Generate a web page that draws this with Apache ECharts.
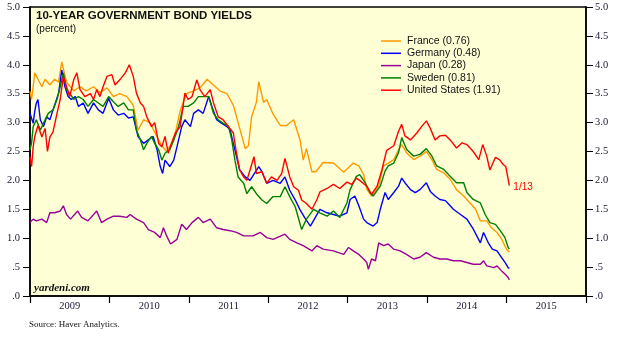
<!DOCTYPE html>
<html><head><meta charset="utf-8">
<script src="https://cdn.jsdelivr.net/npm/echarts@6/dist/echarts.min.js"></script>
<style>html,body{margin:0;padding:0;background:#fff}#c{width:628px;height:337px}</style>
</head><body><div id="c"></div>
<script>
const years = ['2009','2010','2011','2012','2013','2014','2015'];
const yTickLabels = ['.0','.5','1.0','1.5','2.0','2.5','3.0','3.5','4.0','4.5','5.0'];
const names = ['France (0.76)','Germany (0.48)','Japan (0.28)','Sweden (0.81)','United States (1.91)'];
const colors = ['#FF9900','#0000FF','#990099','#008000','#FF0000'];

const france = [[2009.00,3.54],[2009.02,3.40],[2009.06,3.86],[2009.10,3.75],[2009.15,3.62],[2009.19,3.75],[2009.25,3.65],[2009.31,3.75],[2009.36,3.70],[2009.40,4.05],[2009.46,3.70],[2009.55,3.55],[2009.63,3.62],[2009.71,3.55],[2009.80,3.62],[2009.88,3.52],[2009.97,3.60],[2010.05,3.45],[2010.13,3.50],[2010.22,3.45],[2010.30,3.30],[2010.36,2.87],[2010.43,3.05],[2010.51,3.00],[2010.60,2.75],[2010.66,2.60],[2010.72,2.50],[2010.81,2.70],[2010.89,3.20],[2010.97,3.50],[2011.06,3.55],[2011.14,3.60],[2011.23,3.75],[2011.31,3.65],[2011.39,3.55],[2011.48,3.50],[2011.56,3.30],[2011.64,2.90],[2011.71,2.55],[2011.75,2.60],[2011.79,3.10],[2011.85,3.35],[2011.88,3.71],[2011.94,3.35],[2011.98,3.40],[2012.06,3.15],[2012.15,2.95],[2012.23,2.95],[2012.32,3.05],[2012.40,2.70],[2012.44,2.35],[2012.48,2.55],[2012.55,2.15],[2012.60,2.15],[2012.69,2.31],[2012.82,2.30],[2012.95,2.14],[2013.07,2.30],[2013.14,2.25],[2013.20,2.10],[2013.24,1.85],[2013.30,1.73],[2013.39,1.90],[2013.45,2.25],[2013.51,2.30],[2013.58,2.36],[2013.64,2.53],[2013.68,2.62],[2013.74,2.48],[2013.83,2.36],[2013.91,2.42],[2013.99,2.50],[2014.06,2.36],[2014.12,2.19],[2014.21,2.13],[2014.29,2.02],[2014.37,1.84],[2014.46,1.73],[2014.54,1.61],[2014.61,1.50],[2014.67,1.30],[2014.75,1.30],[2014.81,1.18],[2014.88,1.10],[2014.94,0.98],[2015.00,0.81],[2015.035,0.76]];

const germany = [[2009.00,3.16],[2009.04,2.99],[2009.06,3.20],[2009.08,3.34],[2009.10,3.40],[2009.13,3.05],[2009.17,2.93],[2009.21,3.10],[2009.25,3.05],[2009.29,3.22],[2009.36,3.51],[2009.40,3.91],[2009.44,3.62],[2009.48,3.45],[2009.52,3.40],[2009.57,3.45],[2009.61,3.28],[2009.67,3.34],[2009.73,3.16],[2009.80,3.34],[2009.86,3.22],[2009.92,3.16],[2009.99,3.42],[2010.05,3.22],[2010.11,3.13],[2010.18,3.16],[2010.24,3.08],[2010.30,3.10],[2010.36,2.76],[2010.43,2.64],[2010.49,2.70],[2010.55,2.76],[2010.60,2.53],[2010.64,2.24],[2010.67,2.12],[2010.70,2.35],[2010.76,2.24],[2010.81,2.35],[2010.85,2.58],[2010.91,2.93],[2010.95,3.05],[2011.02,2.93],[2011.06,3.16],[2011.12,3.22],[2011.18,3.16],[2011.25,3.45],[2011.29,3.28],[2011.35,3.05],[2011.41,2.99],[2011.48,2.93],[2011.52,2.87],[2011.56,2.64],[2011.60,2.41],[2011.64,2.18],[2011.71,2.06],[2011.77,2.00],[2011.88,2.24],[2011.92,2.15],[2011.98,1.95],[2012.06,2.00],[2012.15,1.95],[2012.21,2.06],[2012.27,1.83],[2012.34,1.66],[2012.40,1.49],[2012.46,1.35],[2012.53,1.21],[2012.65,1.50],[2012.74,1.44],[2012.82,1.41],[2012.90,1.38],[2012.99,1.44],[2013.03,1.67],[2013.09,1.73],[2013.14,1.56],[2013.20,1.33],[2013.24,1.27],[2013.32,1.21],[2013.37,1.27],[2013.41,1.50],[2013.47,1.79],[2013.51,1.67],[2013.58,1.79],[2013.64,1.90],[2013.68,2.04],[2013.72,1.96],[2013.79,1.84],[2013.85,1.79],[2013.91,1.84],[2013.99,1.96],[2014.04,1.81],[2014.10,1.73],[2014.16,1.67],[2014.23,1.65],[2014.29,1.56],[2014.33,1.50],[2014.42,1.41],[2014.50,1.33],[2014.58,1.16],[2014.67,0.92],[2014.71,1.10],[2014.77,0.92],[2014.82,0.81],[2014.88,0.78],[2014.92,0.70],[2014.98,0.58],[2015.02,0.49],[2015.035,0.48]];

const japan = [[2009.00,1.27],[2009.04,1.33],[2009.08,1.30],[2009.15,1.33],[2009.21,1.27],[2009.25,1.44],[2009.31,1.44],[2009.38,1.47],[2009.42,1.56],[2009.46,1.41],[2009.51,1.33],[2009.60,1.47],[2009.65,1.36],[2009.73,1.30],[2009.84,1.47],[2009.90,1.27],[2009.97,1.33],[2010.05,1.38],[2010.13,1.38],[2010.22,1.36],[2010.26,1.41],[2010.34,1.33],[2010.43,1.27],[2010.49,1.15],[2010.57,1.10],[2010.64,1.01],[2010.68,1.18],[2010.72,1.04],[2010.77,0.90],[2010.85,0.98],[2010.91,1.24],[2010.97,1.15],[2011.04,1.27],[2011.12,1.36],[2011.18,1.27],[2011.27,1.33],[2011.35,1.18],[2011.43,1.15],[2011.52,1.13],[2011.60,1.10],[2011.69,1.04],[2011.81,1.04],[2011.90,1.10],[2011.98,1.01],[2012.06,0.98],[2012.21,1.07],[2012.27,0.98],[2012.36,0.92],[2012.44,0.87],[2012.55,0.78],[2012.61,0.87],[2012.69,0.81],[2012.82,0.78],[2012.95,0.72],[2013.01,0.84],[2013.07,0.78],[2013.14,0.72],[2013.20,0.64],[2013.24,0.58],[2013.26,0.46],[2013.30,0.64],[2013.35,0.61],[2013.39,0.92],[2013.45,0.87],[2013.51,0.90],[2013.58,0.81],[2013.66,0.78],[2013.74,0.72],[2013.83,0.64],[2013.91,0.67],[2013.99,0.75],[2014.08,0.67],[2014.16,0.64],[2014.25,0.64],[2014.33,0.61],[2014.42,0.61],[2014.50,0.58],[2014.58,0.55],[2014.67,0.55],[2014.71,0.61],[2014.75,0.52],[2014.84,0.49],[2014.88,0.52],[2014.94,0.43],[2014.98,0.38],[2015.02,0.32],[2015.035,0.28]];

const sweden = [[2009.00,2.53],[2009.02,2.65],[2009.04,2.93],[2009.08,3.05],[2009.13,2.87],[2009.17,2.99],[2009.23,3.16],[2009.29,3.22],[2009.34,3.40],[2009.38,3.62],[2009.42,3.86],[2009.46,3.57],[2009.50,3.51],[2009.55,3.40],[2009.61,3.45],[2009.67,3.40],[2009.73,3.28],[2009.80,3.40],[2009.86,3.34],[2009.92,3.28],[2009.99,3.45],[2010.05,3.36],[2010.11,3.28],[2010.18,3.34],[2010.24,3.22],[2010.30,3.22],[2010.34,2.87],[2010.39,2.70],[2010.43,2.53],[2010.47,2.64],[2010.53,2.76],[2010.57,2.64],[2010.62,2.53],[2010.66,2.35],[2010.70,2.47],[2010.76,2.53],[2010.81,2.70],[2010.87,2.93],[2010.93,3.28],[2010.99,3.28],[2011.06,3.34],[2011.12,3.45],[2011.18,3.45],[2011.25,3.45],[2011.31,3.16],[2011.37,3.05],[2011.43,2.99],[2011.50,2.93],[2011.54,2.70],[2011.58,2.35],[2011.62,2.06],[2011.69,1.95],[2011.73,1.77],[2011.79,1.89],[2011.85,1.77],[2011.92,1.66],[2011.98,1.60],[2012.06,1.72],[2012.15,1.72],[2012.21,1.89],[2012.27,1.72],[2012.34,1.54],[2012.42,1.15],[2012.48,1.33],[2012.57,1.50],[2012.65,1.44],[2012.74,1.38],[2012.82,1.47],[2012.90,1.36],[2012.99,1.61],[2013.03,1.84],[2013.11,2.07],[2013.15,2.10],[2013.22,1.96],[2013.28,1.79],[2013.32,1.73],[2013.41,1.90],[2013.47,2.16],[2013.51,2.25],[2013.58,2.30],[2013.64,2.48],[2013.68,2.74],[2013.74,2.54],[2013.83,2.42],[2013.91,2.45],[2013.99,2.55],[2014.06,2.42],[2014.12,2.25],[2014.21,2.19],[2014.29,2.07],[2014.37,1.96],[2014.46,1.96],[2014.50,1.79],[2014.58,1.67],[2014.67,1.61],[2014.73,1.41],[2014.79,1.27],[2014.86,1.24],[2014.92,1.13],[2014.98,1.01],[2015.02,0.84],[2015.035,0.81]];

const unitedStates = [[2009.00,2.41],[2009.02,2.24],[2009.04,2.58],[2009.06,2.76],[2009.10,2.95],[2009.15,2.75],[2009.19,2.90],[2009.22,2.50],[2009.25,2.75],[2009.29,2.84],[2009.34,3.16],[2009.38,3.40],[2009.42,3.80],[2009.46,3.62],[2009.50,3.45],[2009.55,3.74],[2009.59,3.86],[2009.63,3.57],[2009.69,3.45],[2009.76,3.50],[2009.80,3.40],[2009.84,3.57],[2009.88,3.45],[2009.92,3.62],[2009.97,3.80],[2010.03,3.83],[2010.07,3.65],[2010.13,3.74],[2010.20,3.86],[2010.25,4.00],[2010.30,3.80],[2010.34,3.51],[2010.39,3.34],[2010.43,3.28],[2010.47,3.10],[2010.53,2.93],[2010.57,3.00],[2010.62,2.64],[2010.66,2.58],[2010.70,2.76],[2010.74,2.47],[2010.78,2.64],[2010.83,2.82],[2010.89,2.93],[2010.95,3.51],[2010.99,3.40],[2011.04,3.45],[2011.10,3.74],[2011.14,3.57],[2011.20,3.45],[2011.27,3.57],[2011.31,3.34],[2011.37,3.10],[2011.43,3.05],[2011.50,2.93],[2011.56,2.82],[2011.60,2.47],[2011.64,2.18],[2011.69,2.06],[2011.73,2.00],[2011.77,2.18],[2011.82,2.41],[2011.85,2.12],[2011.92,2.15],[2011.98,1.95],[2012.04,2.06],[2012.11,2.00],[2012.17,2.12],[2012.21,2.38],[2012.27,2.06],[2012.32,1.89],[2012.38,1.83],[2012.42,1.66],[2012.48,1.60],[2012.55,1.50],[2012.61,1.66],[2012.65,1.80],[2012.74,1.86],[2012.82,1.93],[2012.90,1.86],[2012.99,1.97],[2013.05,1.93],[2013.11,2.04],[2013.15,2.00],[2013.24,1.90],[2013.30,1.76],[2013.37,1.90],[2013.43,2.18],[2013.49,2.52],[2013.58,2.60],[2013.64,2.85],[2013.68,2.97],[2013.72,2.77],[2013.79,2.70],[2013.87,2.82],[2013.93,2.93],[2013.99,3.03],[2014.04,2.90],[2014.10,2.70],[2014.16,2.77],[2014.23,2.78],[2014.29,2.70],[2014.37,2.56],[2014.44,2.65],[2014.50,2.62],[2014.58,2.50],[2014.65,2.36],[2014.70,2.62],[2014.75,2.42],[2014.79,2.18],[2014.86,2.40],[2014.91,2.36],[2014.96,2.27],[2014.99,2.24],[2015.035,1.91]];

const seriesData = [france, germany, japan, sweden, unitedStates];

const chart = echarts.init(document.getElementById('c'), null, {renderer: 'canvas'});
const axisTextColor = '#1a1a33';
const yAxisCommon = {
  type: 'value', min: 0, max: 5, interval: 0.5,
  axisLine: {show: true, lineStyle: {color: '#000', width: 1.5}},
  axisTick: {show: true, length: 7, lineStyle: {color: '#000', width: 1}},
  splitLine: {show: false},
  axisLabel: {fontFamily: 'Liberation Serif', fontSize: 10.5, color: axisTextColor, margin: 10,
    formatter: v => yTickLabels[Math.round(v / 0.5)]}
};
chart.setOption({
  animation: false,
  backgroundColor: '#ffffff',
  grid: {left: 30, top: 7, right: 42, bottom: 41, show: true, backgroundColor: '#FFFFD6', borderColor: '#000', borderWidth: 1.5},
  xAxis: [
    {type: 'value', min: 2009, max: 2016, show: false, position: 'top'},
    {type: 'category', data: years, boundaryGap: true, position: 'bottom',
      axisLine: {show: true, lineStyle: {color: '#000', width: 1.5}},
      axisTick: {show: true, interval: 0, length: 7, lineStyle: {color: '#000', width: 1.2}},
      axisLabel: {fontFamily: 'Liberation Serif', fontSize: 10.5, color: axisTextColor, margin: 5, interval: 0},
      splitLine: {show: false}}
  ],
  yAxis: [
    Object.assign({position: 'left'}, yAxisCommon),
    Object.assign({position: 'right'}, yAxisCommon, {axisLabel: Object.assign({}, yAxisCommon.axisLabel, {margin: 9})})
  ],
  legend: {
    orient: 'vertical', left: 381, top: 35, itemWidth: 20, itemHeight: 1.5, itemGap: 0.3, icon: 'rect',
    data: names,
    textStyle: {fontFamily: 'Liberation Sans', fontSize: 10.5, color: '#111', lineHeight: 12, padding: [0, 0, 0, 1]},
    padding: 0
  },
  graphic: [
    {type: 'text', left: 36, top: 10, style: {text: '10-YEAR GOVERNMENT BOND YIELDS', font: 'bold 11.5px "Liberation Sans"', fill: '#111'}},
    {type: 'text', left: 36, top: 24, style: {text: '(percent)', font: '10px "Liberation Sans"', fill: '#111'}},
    {type: 'text', left: 34, top: 283, style: {text: 'yardeni.com', font: 'italic bold 11px "Liberation Serif"', fill: '#111'}},
    {type: 'text', left: 29, top: 320, style: {text: 'Source: Haver Analytics.', font: '9px "Liberation Serif"', fill: '#111'}}
  ],
  series: names.map((n, i) => ({
    name: n, type: 'line', xAxisIndex: 0, yAxisIndex: 0, data: seriesData[i],
    showSymbol: false, symbol: 'none', lineStyle: {color: colors[i], width: 1.4}, itemStyle: {color: colors[i]},
    z: i === 2 ? 2 : 3,
    endLabel: i === 4 ? {show: true, formatter: '1/13', color: '#FF0000', fontFamily: 'Liberation Sans', fontSize: 10, distance: 4, offset: [0, 2]} : {show: false}
  }))
});
</script></body></html>
